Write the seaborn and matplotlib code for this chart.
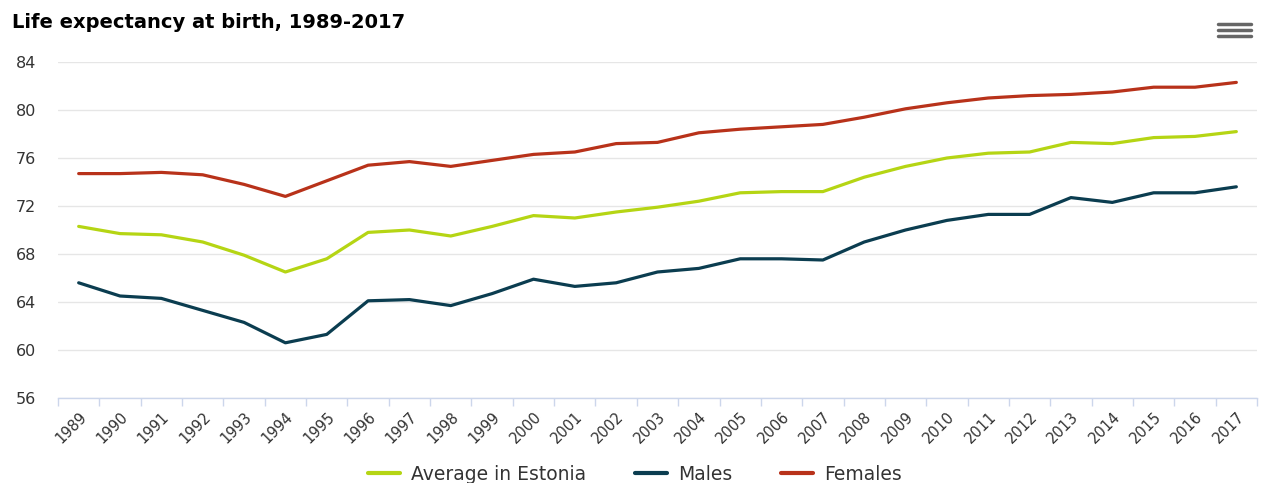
import numpy as np
import pandas as pd
import seaborn as sns
import matplotlib.pyplot as plt
from matplotlib.lines import Line2D

years = list(range(1989, 2018))

average = [70.3, 69.7, 69.6, 69.0, 67.9, 66.5, 67.6, 69.8, 70.0, 69.5,
           70.3, 71.2, 71.0, 71.5, 71.9, 72.4, 73.1, 73.2, 73.2, 74.4,
           75.3, 76.0, 76.4, 76.5, 77.3, 77.2, 77.7, 77.8, 78.2]
males = [65.6, 64.5, 64.3, 63.3, 62.3, 60.6, 61.3, 64.1, 64.2, 63.7,
         64.7, 65.9, 65.3, 65.6, 66.5, 66.8, 67.6, 67.6, 67.5, 69.0,
         70.0, 70.8, 71.3, 71.3, 72.7, 72.3, 73.1, 73.1, 73.6]
females = [74.7, 74.7, 74.8, 74.6, 73.8, 72.8, 74.1, 75.4, 75.7, 75.3,
           75.8, 76.3, 76.5, 77.2, 77.3, 78.1, 78.4, 78.6, 78.8, 79.4,
           80.1, 80.6, 81.0, 81.2, 81.3, 81.5, 81.9, 81.9, 82.3]

series = ["Average in Estonia", "Males", "Females"]
colors = ["#b5d514", "#0b3d50", "#b8321a"]

df = pd.DataFrame({
    "year": years * 3,
    "value": average + males + females,
    "series": [series[0]] * len(years) + [series[1]] * len(years) + [series[2]] * len(years),
})

sns.set_style("white")
plt.rcParams['font.family'] = ['DejaVu Sans']

fig = plt.figure(figsize=(12.7, 4.83), dpi=100)
ax = fig.add_axes([58 / 1270, 85 / 483, 1199 / 1270, 336 / 483])

sns.lineplot(data=df, x="year", y="value", hue="series", hue_order=series,
             palette=colors, linewidth=2.3, ax=ax, legend=False)

ax.set_xlim(1988.54, 2017.46)
ax.set_ylim(56, 84)
ax.set_yticks(range(56, 85, 4))
ax.yaxis.grid(True, color="#e6e6e6", linewidth=1)
ax.set_axisbelow(True)
ax.set_xlabel("")
ax.set_ylabel("")

ax.set_xticks(years)
ax.set_xticklabels([str(y) for y in years], rotation=45, ha="right",
                   rotation_mode="anchor", fontsize=10.5, color="#333333")
ax.set_xticks([y - 0.5 for y in years] + [2017.5], minor=True)
ax.tick_params(axis="x", which="major", length=0, pad=8, bottom=True)
ax.tick_params(axis="x", which="minor", length=6, color="#ccd6eb", width=1, bottom=True)
ax.tick_params(axis="y", length=0, pad=16, labelsize=11.5, labelcolor="#333333")

for s in ["top", "right", "left"]:
    ax.spines[s].set_visible(False)
ax.spines["bottom"].set_color("#ccd6eb")
ax.spines["bottom"].set_linewidth(1)

fig.text(12 / 1270, 1 - 22 / 483, "Life expectancy at birth, 1989-2017",
         fontsize=14, fontweight="bold", color="#000000", va="center", ha="left")

handles = [Line2D([0], [0], color=c, linewidth=3) for c in colors]
fig.legend(handles, series, loc="center", bbox_to_anchor=(0.5, 1 - 474 / 483),
           ncol=3, frameon=False, fontsize=13.5, handlelength=1.7,
           columnspacing=2.6, handletextpad=0.6, labelcolor="#333333")

# menu icon top right
for yy in [24, 30, 36]:
    fig.add_artist(Line2D([1218 / 1270, 1251 / 1270], [1 - yy / 483, 1 - yy / 483],
                          color="#666666", linewidth=2.5, solid_capstyle="round"))

fig.savefig("out.png", dpi=100)
